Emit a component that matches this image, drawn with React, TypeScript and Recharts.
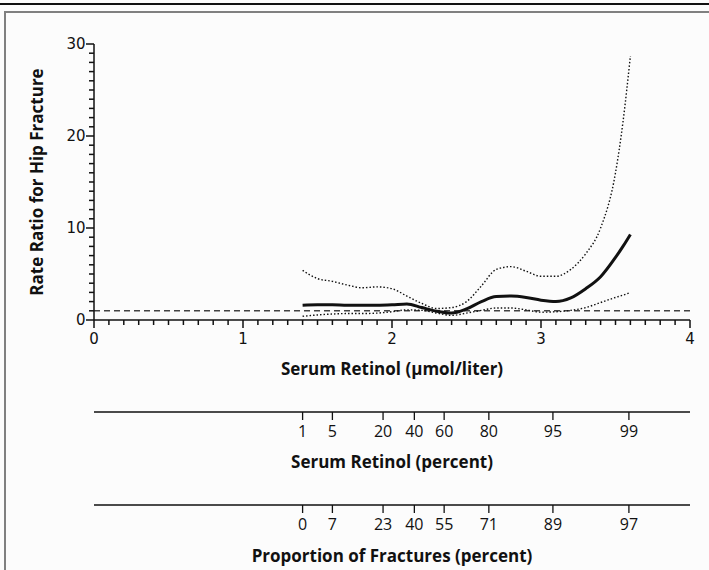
import { LineChart, Line, XAxis, YAxis, ReferenceLine } from "recharts";

// serum retinol (umol/liter) and rate ratio curve
const retinol = [1.4, 1.5, 1.6, 1.7, 1.8, 1.9, 2.0, 2.1, 2.2, 2.3, 2.4, 2.5, 2.6, 2.7, 2.8, 2.9, 3.0, 3.1, 3.2, 3.3, 3.4, 3.5, 3.55, 3.6];
const estimate = [1.6, 1.65, 1.65, 1.6, 1.6, 1.6, 1.65, 1.75, 1.35, 0.95, 0.75, 1.2, 2.0, 2.55, 2.6, 2.45, 2.15, 2.0, 2.4, 3.4, 4.7, 6.8, 8.0, 9.3];
const upper = [5.4, 4.5, 4.2, 3.8, 3.5, 3.6, 3.4, 2.6, 1.8, 1.25, 1.35, 2.0, 3.7, 5.5, 5.8, 5.3, 4.75, 4.75, 5.5, 7.2, 10.0, 16.0, 21.5, 28.7];
const lower = [0.4, 0.55, 0.65, 0.7, 0.7, 0.75, 0.9, 1.1, 1.05, 0.75, 0.5, 0.75, 1.05, 1.3, 1.3, 1.1, 0.85, 0.9, 1.05, 1.35, 1.9, 2.45, 2.7, 3.0];

// percentile scales under the main axis
const pctPos = [1.4, 1.6, 1.94, 2.15, 2.35, 2.65, 3.08, 3.59];
const pctLabels = ["1", "5", "20", "40", "60", "80", "95", "99"];
const fracLabels = ["0", "7", "23", "40", "55", "71", "89", "97"];

const xMajor = [0, 1, 2, 3, 4];
const yMajor = [0, 10, 20, 30];

const data = retinol.map((r, i) => ({
  r,
  est: estimate[i],
  upper: upper[i],
  lower: lower[i],
}));

const xTicks = Array.from({ length: 41 }, (_, i) => i / 10);
const yTicks = Array.from({ length: 31 }, (_, i) => i);

const ink = "#111";
const tickFont = "'DejaVu Sans', sans-serif";
const labelFont = "'Open Sans', sans-serif";

const XMainTick = (props: any) => {
  const { x, y, payload } = props;
  const v = payload.value;
  const major = xMajor.some((m) => Math.abs(m - v) < 1e-6);
  return (
    <g>
      <line x1={x} y1={y} x2={x} y2={y + (major ? 8 : 5)} stroke={ink} strokeWidth={1.5} />
      {major && (
        <text x={x} y={y + 23.5} textAnchor="middle" fontFamily={tickFont} fontSize={15} fill={ink}>
          {Math.round(v)}
        </text>
      )}
    </g>
  );
};

const YTick = (props: any) => {
  const { x, y, payload } = props;
  const v = payload.value;
  const major = yMajor.includes(v);
  return (
    <g>
      <line x1={x} y1={y} x2={x - (major ? 8 : 5)} y2={y} stroke={ink} strokeWidth={1.5} />
      {major && (
        <text x={x - 8.5} y={y + 5.3} textAnchor="end" fontFamily={tickFont} fontSize={15} fill={ink}>
          {v}
        </text>
      )}
    </g>
  );
};

const makePctTick = (labels: string[]) => (props: any) => {
  const { x, y, index } = props;
  return (
    <g>
      <line x1={x} y1={y} x2={x} y2={y + 8} stroke={ink} strokeWidth={1.3} />
      <text x={x} y={y + 25} textAnchor="middle" fontFamily={labelFont} fontSize={16} fill={ink}>
        {labels[index]}
      </text>
    </g>
  );
};

const titleStyle = { fontFamily: labelFont, fontWeight: 700, fontSize: 17, fill: ink };

export default function App() {
  return (
    <div style={{ position: "absolute", left: 0, top: 0, width: 709, height: 570, background: "#fcfcfc", overflow: "hidden" }}>
      <div style={{ position: "absolute", left: 0, top: 3, width: 709, height: 2, background: "#111" }} />
      <div style={{ position: "absolute", left: 4, top: 11, width: 720, height: 580, borderTop: "2px solid #808080", borderLeft: "2px solid #808080" }} />
      <div style={{ position: "absolute", left: 0, top: 0 }}>
        <LineChart width={709} height={570} data={data} margin={{ top: 44, right: 19, bottom: 3, left: 0 }}>
          <XAxis
            xAxisId={0}
            dataKey="r"
            type="number"
            domain={[0, 4]}
            ticks={xTicks}
            interval={0}
            height={92}
            tickSize={0}
            tickMargin={0}
            tickLine={false}
            tick={<XMainTick />}
            axisLine={{ stroke: ink, strokeWidth: 1.5 }}
            allowDataOverflow
            label={{ value: "Serum Retinol (\u03bcmol/liter)", position: "insideBottom", offset: 37, style: titleStyle }}
          />
          <XAxis
            xAxisId={1}
            dataKey="r"
            type="number"
            domain={[0, 4]}
            ticks={pctPos}
            interval={0}
            height={93}
            tickSize={0}
            tickMargin={0}
            tickLine={false}
            tick={makePctTick(pctLabels)}
            axisLine={{ stroke: ink, strokeWidth: 1.5 }}
            allowDataOverflow
            label={{ value: "Serum Retinol (percent)", position: "insideBottom", offset: 37, style: titleStyle }}
          />
          <XAxis
            xAxisId={2}
            dataKey="r"
            type="number"
            domain={[0, 4]}
            ticks={pctPos}
            interval={0}
            height={62}
            tickSize={0}
            tickMargin={0}
            tickLine={false}
            tick={makePctTick(fracLabels)}
            axisLine={{ stroke: ink, strokeWidth: 1.5 }}
            allowDataOverflow
            label={{ value: "Proportion of Fractures (percent)", position: "insideBottom", offset: 5, style: titleStyle }}
          />
          <YAxis
            type="number"
            domain={[0, 30]}
            ticks={yTicks}
            interval={0}
            width={94}
            tickSize={0}
            tickMargin={0}
            tickLine={false}
            tick={<YTick />}
            axisLine={{ stroke: ink, strokeWidth: 1.5 }}
            label={{ value: "Rate Ratio for Hip Fracture", angle: -90, position: "insideLeft", offset: 37, style: { ...titleStyle, textAnchor: "middle" } }}
          />
          <ReferenceLine y={1} xAxisId={0} stroke="#444" strokeWidth={1.5} strokeDasharray="6 4" />
          <Line xAxisId={0} dataKey="upper" type="monotone" stroke={ink} strokeWidth={1.4} strokeDasharray="1.5 2" dot={false} isAnimationActive={false} />
          <Line xAxisId={0} dataKey="lower" type="monotone" stroke={ink} strokeWidth={1.4} strokeDasharray="1.5 2" dot={false} isAnimationActive={false} />
          <Line xAxisId={0} dataKey="est" type="monotone" stroke={ink} strokeWidth={3} dot={false} isAnimationActive={false} />
        </LineChart>
      </div>
    </div>
  );
}
